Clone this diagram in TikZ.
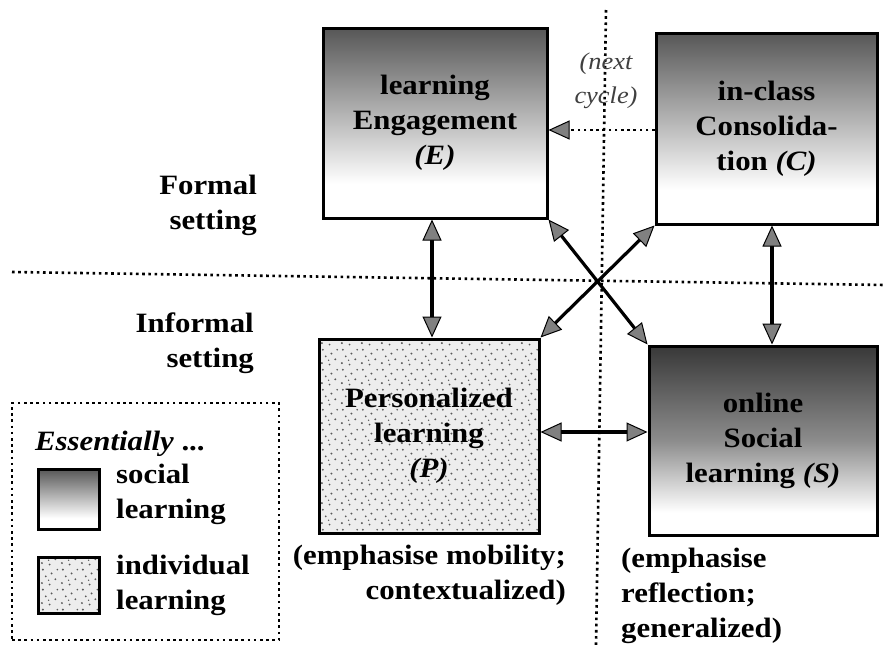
\documentclass[tikz,border=0pt]{standalone}
\usepackage{fontspec}
\setmainfont{Liberation Serif}[FakeStretch=1.1]
\usetikzlibrary{arrows.meta,patterns.meta}
\pgfdeclareverticalshading{socE}{100bp}{color(0bp)=(white); color(25bp)=(white); color(34bp)=(white); color(75bp)=(black!66); color(100bp)=(black!66)}
\pgfdeclareverticalshading{socS}{100bp}{color(0bp)=(white); color(25bp)=(white); color(31bp)=(white); color(50bp)=(black!45); color(75bp)=(black!78); color(100bp)=(black!78)}
\tikzdeclarepattern{name=speckle, type=uncolored,
  bounding box={(0pt,0pt) and (20pt,20pt)}, tile size={(20pt,20pt)},
  code={\fill (2pt,3pt) circle (1.1pt) (10pt,1.5pt) circle (1pt) (16pt,7pt) circle (1.1pt)
    (6pt,10pt) circle (1pt) (12pt,13pt) circle (1.1pt) (18pt,17pt) circle (1pt)
    (3pt,17pt) circle (1.1pt) (9pt,6pt) circle (0.8pt);}}
\tikzset{
  gtip/.tip={Triangle[length=21pt,width=19pt,fill=black!50,line width=1pt]},
  box/.style={draw=black, line width=3pt, inner sep=0pt, align=center,
    font=\fontsize{28}{35}\selectfont\bfseries},
  soc/.style={box, shading=socE},
  socdark/.style={box, shading=socS},
  indiv/.style={box, preaction={fill=black!7}, pattern={speckle}, pattern color=black!65},
  lbl/.style={font=\fontsize{28}{35}\selectfont\bfseries, inner sep=0pt},
  biarrow/.style={line width=3.2pt, gtip-gtip},
  divider/.style={line width=2.6pt, dash pattern=on 2.6pt off 3.6pt},
  dotarrow/.style={line width=2.4pt, dash pattern=on 2.6pt off 3.6pt, -gtip},
}
\begin{document}
\begin{tikzpicture}[x=1pt,y=-1pt]
\useasboundingbox (0,0) rectangle (885,645);
% dividers
\coordinate (hl) at (12,272);
\coordinate (hr) at (885,285);
\coordinate (vt) at (606,10);
\coordinate (vb) at (596,645);
\draw[divider] (hl) -- (hr);
\draw[divider] (vt) -- (vb);
% boxes
\node[soc, minimum width=224pt, minimum height=190pt] (E) at (435,123)
  {learning\\Engagement\\\textit{(E)}};
\node[soc, minimum width=221pt, minimum height=191pt] (C) at (766.5,128.5)
  {in-class\\Consolida-\\tion \textit{(C)}};
\node[indiv, minimum width=220pt, minimum height=194pt] (P) at (429,436)
  {Personalized\\learning\\\textit{(P)}};
\node[socdark, minimum width=228pt, minimum height=189pt] (S) at (763,440.5)
  {online\\Social\\learning \textit{(S)}};
% side labels
\node[lbl, align=right, anchor=east] (formal) at (257,205.5) {Formal\\setting};
\node[lbl, align=right, anchor=east] (informal) at (254,343.5) {Informal\\setting};
% next cycle
\node[font=\fontsize{24}{34}\selectfont\itshape, text=black!75, align=center, inner sep=0pt] (nc) at (606,81) {(next\\cycle)};
\draw[dotarrow] (C.west |- 0,130) -- (E.east |- 0,130);
% arrows
\draw[biarrow] ([xshift=-3pt]E.south) -- ([xshift=-3pt]E.south |- P.north);
\draw[biarrow] ([xshift=5.5pt]C.south) -- ([xshift=5.5pt]C.south |- S.north);
\draw[biarrow] ([yshift=4pt]P.east) -- ([yshift=4pt]P.east -| S.west);
\draw[biarrow] (E.south east) -- (S.north west);
\draw[biarrow] (P.north east) -- (C.south west);
% notes
\node[lbl, align=right, anchor=east] (pnote) at (566,575.5) {(emphasise mobility;\\contextualized)};
\node[lbl, align=left, anchor=west] (snote) at (621,596) {(emphasise\\reflection;\\generalized)};
% legend
\node[draw, line width=2.4pt, dash pattern=on 2.6pt off 3.6pt, minimum width=267pt, minimum height=237pt, inner sep=0pt] (L) at (145.5,521.5) {};
\node[lbl, anchor=west, font=\fontsize{28}{35}\selectfont\bfseries\itshape] (ess) at (35,444) {Essentially \textup{...}};
\node[soc, minimum width=61pt, minimum height=60pt] (sw1) at (68.5,499) {};
\node[indiv, minimum width=61pt, minimum height=56pt] (sw2) at (68.5,585) {};
\node[lbl, align=left, anchor=west] (t1) at (116,494.5) {social\\learning};
\node[lbl, align=left, anchor=west] (t2) at (116,585.5) {individual\\learning};
\end{tikzpicture}
\end{document}
